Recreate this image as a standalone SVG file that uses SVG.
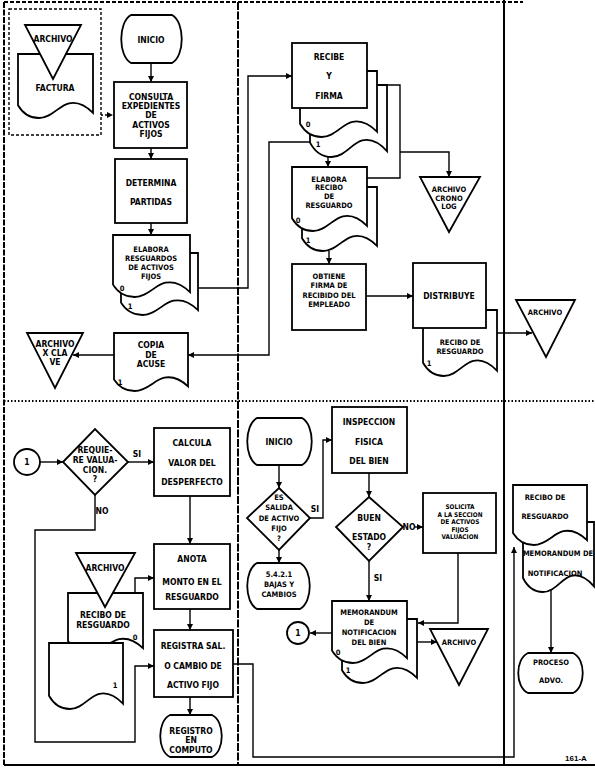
<svg xmlns="http://www.w3.org/2000/svg" xmlns:xlink="http://www.w3.org/1999/xlink" width="595" height="768" viewBox="0 0 595 768">
<style>
.s{fill:#fff;stroke:#000;stroke-width:1.8}
.c{fill:none;stroke:#000;stroke-width:1.4}
.a{marker-end:url(#ah)}
.fr{fill:none;stroke:#000;stroke-width:2}
.t{font-family:"DejaVu Sans Condensed","DejaVu Sans",sans-serif;font-weight:bold;font-size:8.5px;fill:#000;text-anchor:middle}
.sm{font-size:7.5px}
.xs{font-size:6.4px}
</style>
<defs>
<marker id="ah" viewBox="0 0 10 10" refX="10" refY="5" markerWidth="6" markerHeight="6" markerUnits="userSpaceOnUse" orient="auto"><path d="M0,0 L10,5 L0,10 Z" fill="#000"/></marker>
<path id="doc" d="M0,0 H100 V92 C90,80 80,74 68,77 C55,80 45,100 28,100 C14,100 5,90 0,80 Z" vector-effect="non-scaling-stroke"/>
</defs>

<g id="frame">
<line class="fr" x1="4" y1="2" x2="4" y2="765" stroke-dasharray="6,1.5"/>
<line class="fr" x1="4" y1="2" x2="523" y2="2" stroke-dasharray="4,2"/>
<line class="fr" x1="238" y1="2" x2="238" y2="765" stroke-dasharray="8,1.5"/>
<line class="fr" x1="504" y1="0" x2="504" y2="765" stroke-width="1.6"/>
<line class="fr" x1="4" y1="765" x2="595" y2="765" stroke-width="2.4"/>
<line class="fr" x1="4" y1="401" x2="595" y2="401" stroke-width="1.4" stroke-dasharray="1.5,2"/>
</g>

<g id="connectors">
<line class="c a" x1="101" y1="115" x2="113" y2="115" stroke-dasharray="2,2"/>
<line class="c a" x1="151" y1="63" x2="151" y2="82"/>
<line class="c a" x1="151" y1="148" x2="151" y2="159"/>
<line class="c a" x1="151" y1="223" x2="151" y2="235"/>
<path class="c a" d="M198,288 H248 V76 H292"/>
<path class="c a" d="M310,142 H269 V355 H188"/>
<line class="c a" x1="114" y1="355" x2="73" y2="355"/>
<path class="c" d="M387,85 H400 V178 H367"/>
<path class="c a" d="M400,152 H449 V177"/>
<line class="c a" x1="328" y1="155" x2="328" y2="167"/>
<line class="c a" x1="329" y1="251" x2="329" y2="264"/>
<line class="c a" x1="366" y1="296" x2="413" y2="296"/>
<line class="c a" x1="497" y1="333" x2="532" y2="333"/>
<line class="c a" x1="40" y1="462" x2="63" y2="462"/>
<line class="c a" x1="128" y1="462" x2="154" y2="462"/>
<path class="c a" d="M95,495 V530 H35 V742 H135 V666 H154"/>
<line class="c a" x1="190" y1="496" x2="190" y2="544"/>
<path class="c a" d="M135,593 V578 H154"/>
<line class="c a" x1="190" y1="609" x2="190" y2="630"/>
<line class="c a" x1="190" y1="697" x2="190" y2="715"/>
<path class="c a" d="M233,664 H253 V757 H514 V547"/>
<line class="c a" x1="279" y1="465" x2="279" y2="488"/>
<path class="c a" d="M310,518 H323 V440 H332"/>
<line class="c a" x1="279" y1="550" x2="279" y2="563"/>
<line class="c a" x1="369" y1="473" x2="369" y2="497"/>
<line class="c a" x1="415" y1="527" x2="423" y2="527"/>
<line class="c a" x1="369" y1="561" x2="369" y2="601"/>
<path class="c a" d="M458,553 V623 H418"/>
<line class="c a" x1="332" y1="633" x2="310" y2="633"/>
<line class="c a" x1="417" y1="642" x2="437" y2="642"/>
<line class="c a" x1="551" y1="590" x2="551" y2="653"/>
<text class="t" x="137" y="457">SI</text>
<text class="t" x="102" y="514">NO</text>
<text class="t" x="315" y="512">SI</text>
<text class="t" x="409" y="530">NO</text>
<text class="t" x="378" y="581">SI</text>
</g>

<g id="n-archivo-factura">
<rect x="9" y="9" width="92" height="126" fill="none" stroke="#000" stroke-width="1.4" stroke-dasharray="3,2"/>
<use href="#doc" class="s" transform="translate(18,54) scale(0.75,0.64)"/>
<polygon class="s" points="25,25 81,25 53,79"/>
<text class="t" x="53" y="42">ARCHIVO</text>
<text class="t" x="55" y="91">FACTURA</text>
</g>

<g id="n-inicio1">
<path class="s" d="M131,15 H172 C185,22 185,56 172,63 H131 C118,56 118,22 131,15 Z"/>
<text class="t" x="151" y="43">INICIO</text>
</g>

<g id="n-consulta">
<rect class="s" x="114" y="82" width="73" height="66"/>
<text class="t" x="151" y="100">CONSULTA</text>
<text class="t" x="151" y="109">EXPEDIENTES</text>
<text class="t" x="151" y="118">DE</text>
<text class="t" x="151" y="128">ACTIVOS</text>
<text class="t" x="151" y="137">FIJOS</text>
</g>

<g id="n-determina">
<rect class="s" x="115" y="159" width="72" height="64"/>
<text class="t" x="151" y="186">DETERMINA</text>
<text class="t" x="151" y="205">PARTIDAS</text>
</g>

<g id="n-elabora-resguardos">
<use href="#doc" class="s" transform="translate(121,253) scale(0.77,0.62)"/>
<use href="#doc" class="s" transform="translate(113,235) scale(0.77,0.62)"/>
<text class="t sm" x="151" y="252">ELABORA</text>
<text class="t sm" x="151" y="261">RESGUARDOS</text>
<text class="t sm" x="151" y="270">DE ACTIVOS</text>
<text class="t sm" x="151" y="279">FIJOS</text>
<text class="t sm" x="122" y="291">0</text>
<text class="t sm" x="130" y="309">1</text>
</g>

<g id="n-copia-acuse">
<use href="#doc" class="s" transform="translate(114,333) scale(0.74,0.58)"/>
<text class="t" x="151" y="348">COPIA</text>
<text class="t" x="151" y="358">DE</text>
<text class="t" x="151" y="367">ACUSE</text>
<text class="t sm" x="120" y="385">1</text>
</g>

<g id="n-archivo-clave">
<polygon class="s" points="27,333 83,333 55,388"/>
<text class="t" x="55" y="347">ARCHIVO</text>
<text class="t" x="55" y="356">X CLA</text>
<text class="t" x="55" y="365">VE</text>
</g>

<g id="n-recibe-firma">
<use href="#doc" class="s" transform="translate(310,85) scale(0.77,0.72)"/>
<use href="#doc" class="s" transform="translate(300,71) scale(0.77,0.66)"/>
<rect class="s" x="292" y="43" width="75" height="65"/>
<text class="t" x="329" y="60">RECIBE</text>
<text class="t" x="329" y="79">Y</text>
<text class="t" x="329" y="99">FIRMA</text>
<text class="t sm" x="308" y="127">0</text>
<text class="t sm" x="318" y="147">1</text>
</g>

<g id="n-archivo-cronolog">
<polygon class="s" points="420,177 480,177 449,232"/>
<text class="t sm" x="449" y="192">ARCHIVO</text>
<text class="t sm" x="449" y="201">CRONO</text>
<text class="t sm" x="449" y="209">LOG</text>
</g>

<g id="n-elabora-recibo">
<use href="#doc" class="s" transform="translate(302,187) scale(0.75,0.64)"/>
<use href="#doc" class="s" transform="translate(292,167) scale(0.75,0.64)"/>
<text class="t sm" x="329" y="182">ELABORA</text>
<text class="t sm" x="329" y="190">RECIBO</text>
<text class="t sm" x="329" y="199">DE</text>
<text class="t sm" x="329" y="208">RESGUARDO</text>
<text class="t sm" x="298" y="223">0</text>
<text class="t sm" x="308" y="243">1</text>
</g>

<g id="n-obtiene">
<rect class="s" x="292" y="264" width="74" height="66"/>
<text class="t sm" x="329" y="279">OBTIENE</text>
<text class="t sm" x="329" y="288">FIRMA DE</text>
<text class="t sm" x="329" y="298">RECIBIDO DEL</text>
<text class="t sm" x="329" y="307">EMPLEADO</text>
</g>

<g id="n-distribuye">
<use href="#doc" class="s" transform="translate(423,310) scale(0.74,0.66)"/>
<rect class="s" x="413" y="263" width="73" height="65"/>
<text class="t" x="449" y="299">DISTRIBUYE</text>
<text class="t sm" x="460" y="345">RECIBO DE</text>
<text class="t sm" x="460" y="354">RESGUARDO</text>
<text class="t sm" x="429" y="366">1</text>
</g>

<g id="n-archivo-r1">
<polygon class="s" points="516,300 575,300 546,357"/>
<text class="t sm" x="545" y="315">ARCHIVO</text>
</g>

<g id="n-conector1a">
<circle class="s" cx="27" cy="462" r="13"/>
<text class="t" x="27" y="465">1</text>
</g>

<g id="n-requiere">
<polygon class="s" points="63,462 95,429 128,462 95,495"/>
<text class="t" x="95" y="453">REQUIE-</text>
<text class="t" x="95" y="463">RE VALUA-</text>
<text class="t" x="95" y="473">CION.</text>
<text class="t" x="95" y="482">?</text>
</g>

<g id="n-calcula">
<rect class="s" x="154" y="428" width="76" height="68"/>
<text class="t" x="192" y="446">CALCULA</text>
<text class="t" x="192" y="466">VALOR DEL</text>
<text class="t" x="192" y="485">DESPERFECTO</text>
</g>

<g id="n-anota">
<rect class="s" x="154" y="544" width="76" height="65"/>
<text class="t" x="192" y="562">ANOTA</text>
<text class="t" x="192" y="585">MONTO EN EL</text>
<text class="t" x="192" y="600">RESGUARDO</text>
</g>

<g id="n-recibo-archivo">
<use href="#doc" class="s" transform="translate(68,593) scale(0.75,0.60)"/>
<polygon class="s" points="76,553 135,553 105,607"/>
<text class="t" x="105" y="571">ARCHIVO</text>
<text class="t" x="103" y="618">RECIBO DE</text>
<text class="t" x="103" y="628">RESGUARDO</text>
<text class="t sm" x="135" y="640">0</text>
<use href="#doc" class="s" transform="translate(49,643) scale(0.74,0.66)"/>
<text class="t sm" x="115" y="688">1</text>
</g>

<g id="n-registra">
<rect class="s" x="154" y="630" width="79" height="67"/>
<text class="t" x="193" y="649">REGISTRA SAL.</text>
<text class="t" x="193" y="669">O CAMBIO DE</text>
<text class="t" x="193" y="688">ACTIVO FIJO</text>
</g>

<g id="n-registro-computo">
<path class="s" d="M170,715 H212 C225,721 225,751 212,757 H170 C157,751 157,721 170,715 Z"/>
<text class="t" x="191" y="734">REGISTRO</text>
<text class="t" x="191" y="743">EN</text>
<text class="t" x="191" y="753">COMPUTO</text>
</g>

<g id="n-inicio2">
<path class="s" d="M257,418 H302 C315,425 315,458 302,465 H257 C244,458 244,425 257,418 Z"/>
<text class="t" x="279" y="445">INICIO</text>
</g>

<g id="n-salida">
<polygon class="s" points="279,488 310,518 279,550 247,518"/>
<text class="t sm" x="279" y="500">ES</text>
<text class="t sm" x="279" y="510">SALIDA</text>
<text class="t sm" x="279" y="521">DE ACTIVO</text>
<text class="t sm" x="279" y="531">FIJO</text>
<text class="t sm" x="279" y="541">?</text>
</g>

<g id="n-bajas">
<path class="s" d="M257,563 H300 C313,570 313,602 300,609 H257 C244,602 244,570 257,563 Z"/>
<text class="t sm" x="279" y="577">5.4.2.1</text>
<text class="t sm" x="279" y="587">BAJAS Y</text>
<text class="t sm" x="279" y="597">CAMBIOS</text>
</g>

<g id="n-inspeccion">
<rect class="s" x="332" y="407" width="75" height="66"/>
<text class="t" x="369" y="425">INSPECCION</text>
<text class="t" x="369" y="445">FISICA</text>
<text class="t" x="369" y="464">DEL BIEN</text>
</g>

<g id="n-buen-estado">
<polygon class="s" points="369,497 403,527 369,561 336,527"/>
<text class="t" x="369" y="521">BUEN</text>
<text class="t" x="369" y="540">ESTADO</text>
<text class="t" x="369" y="550">?</text>
</g>

<g id="n-solicita">
<rect class="s" x="423" y="493" width="73" height="60"/>
<text class="t xs" x="460" y="509">SOLICITA</text>
<text class="t xs" x="460" y="516.5">A LA SECCION</text>
<text class="t xs" x="460" y="524">DE ACTIVOS</text>
<text class="t xs" x="460" y="531.5">FIJOS</text>
<text class="t xs" x="460" y="539">VALUACION</text>
</g>

<g id="n-memorandum">
<use href="#doc" class="s" transform="translate(342,619) scale(0.75,0.64)"/>
<use href="#doc" class="s" transform="translate(332,601) scale(0.75,0.62)"/>
<text class="t sm" x="369" y="615">MEMORANDUM</text>
<text class="t sm" x="369" y="625">DE</text>
<text class="t sm" x="369" y="635">NOTIFICACION</text>
<text class="t sm" x="369" y="645">DEL BIEN</text>
<text class="t sm" x="338" y="655">0</text>
<text class="t sm" x="348" y="673">1</text>
</g>

<g id="n-conector1b">
<circle class="s" cx="298" cy="633" r="11"/>
<text class="t" x="298" y="636">1</text>
</g>

<g id="n-archivo-m">
<polygon class="s" points="430,629 488,629 459,685"/>
<text class="t sm" x="459" y="645">ARCHIVO</text>
</g>

<g id="n-recibo-memo">
<use href="#doc" class="s" transform="translate(523,522) scale(0.71,0.70)"/>
<use href="#doc" class="s" transform="translate(513,485) scale(0.74,0.60)"/>
<text class="t sm" x="545" y="500">RECIBO DE</text>
<text class="t sm" x="545" y="519">RESGUARDO</text>
<text class="t sm" x="558" y="556">MEMORANDUM DE</text>
<text class="t sm" x="555" y="576">NOTIFICACION</text>
</g>

<g id="n-proceso">
<path class="s" d="M528,653 H573 C586,659 586,687 573,693 H528 C515,687 515,659 528,653 Z"/>
<text class="t sm" x="551" y="665">PROCESO</text>
<text class="t sm" x="551" y="683">ADVO.</text>
</g>

<text x="576" y="761" font-family="Liberation Sans, sans-serif" font-weight="bold" font-size="8" text-anchor="middle" fill="#000">161-A</text>
</svg>
